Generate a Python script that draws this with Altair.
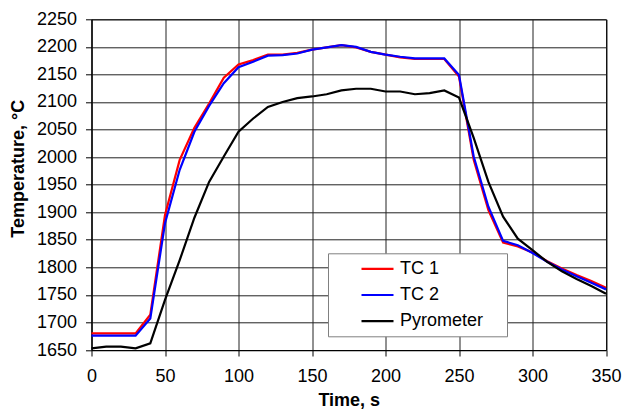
import altair as alt
import pandas as pd

time_s = [0, 10, 20, 30, 40, 50, 60, 70, 80, 90, 100, 110, 120, 130, 140, 150, 160, 170,
          180, 190, 200, 210, 220, 230, 240, 250, 260, 270, 280, 290, 300, 310, 320, 330, 340, 350]
tc1 = [1680, 1680, 1680, 1680, 1714, 1895, 1995, 2053, 2097, 2144, 2168, 2176, 2186, 2186, 2189, 2195, 2199, 2203,
       2199, 2191, 2186, 2181, 2178, 2178, 2178, 2146, 1995, 1904, 1845, 1838, 1827, 1811, 1798, 1786, 1775, 1763]
tc2 = [1676, 1676, 1676, 1676, 1707, 1880, 1977, 2046, 2093, 2134, 2163, 2173, 2184, 2185, 2188, 2195, 2199, 2203,
       2200, 2191, 2186, 2182, 2179, 2179, 2179, 2149, 2001, 1910, 1848, 1840, 1826, 1810, 1796, 1784, 1772, 1760]
pyro = [1653, 1656, 1656, 1653, 1662, 1741, 1813, 1890, 1955, 2001, 2046, 2070, 2091, 2100, 2107, 2110, 2114, 2121,
        2124, 2124, 2119, 2119, 2114, 2116, 2121, 2108, 2035, 1955, 1892, 1852, 1831, 1810, 1793, 1779, 1766, 1752]

series_names = ["TC 1", "TC 2", "Pyrometer"]
series_colors = ["#ff0000", "#0000ff", "#000000"]
x_ticks = [0, 50, 100, 150, 200, 250, 300, 350]
y_ticks = [1650, 1700, 1750, 1800, 1850, 1900, 1950, 2000, 2050, 2100, 2150, 2200, 2250]

rows = []
for name, vals in zip(series_names, [tc1, tc2, pyro]):
    for t, v in zip(time_s, vals):
        rows.append({"Time": t, "Temp": v, "Series": name})
df = pd.DataFrame(rows)

FONT = "Liberation Sans"
W, H = 514.5, 330.7

color = alt.Color(
    "Series:N",
    scale=alt.Scale(domain=series_names, range=series_colors),
    legend=alt.Legend(
        title="\u00a0", titleOrient="right", titlePadding=18, titleFontSize=2,
        orient="none", legendX=236.5, legendY=234,
        fillColor="white", strokeColor="#808080", padding=6, rowPadding=7.2,
        symbolType="M-2,0H2", symbolSize=256, symbolStrokeWidth=2.2, symbolOffset=34,
        labelFont=FONT, labelFontSize=18, labelColor="black", labelOffset=13,
    ),
)
x = alt.X(
    "Time:Q",
    scale=alt.Scale(domain=[0, 350], nice=False),
    axis=alt.Axis(
        values=x_ticks, title="Time, s", labelFlush=False, labelOverlap=False, format="d",
        tickSize=6, labelPadding=11, titleY=55, titleX=W / 2, titleAlign="center",
        titleBaseline="alphabetic",
    ),
)
y = alt.Y(
    "Temp:Q",
    scale=alt.Scale(domain=[1650, 2250], nice=False, zero=False),
    axis=alt.Axis(
        values=y_ticks, title="Temperature, °C", labelFlush=False, labelOverlap=False, format="d",
        tickSize=6, labelPadding=9, titleAngle=270, titleX=-68, titleY=149,
        titleAlign="center", titleBaseline="alphabetic",
    ),
)

base = alt.Chart(df)
layers = [
    base.transform_filter(alt.datum.Series == n)
    .mark_line(strokeWidth=2.2)
    .encode(x=x, y=y, color=color)
    for n in series_names
]

chart = (
    alt.layer(*layers)
    .properties(
        width=W, height=H,
        autosize=alt.AutoSizeParams(type="none"),
        padding={"left": 91.5, "top": 19.3, "right": 29, "bottom": 67},
    )
    .configure_view(stroke="black", strokeWidth=1)
    .configure_axis(
        labelFont=FONT, labelFontSize=18, labelColor="black",
        titleFont=FONT, titleFontSize=18, titleFontWeight="bold", titleColor="black",
        domainColor="black", tickColor="black", gridColor="#222222", gridOpacity=1, gridWidth=1,
    )
)

chart.save("out.html", embed_options={"renderer": "svg", "actions": False})
